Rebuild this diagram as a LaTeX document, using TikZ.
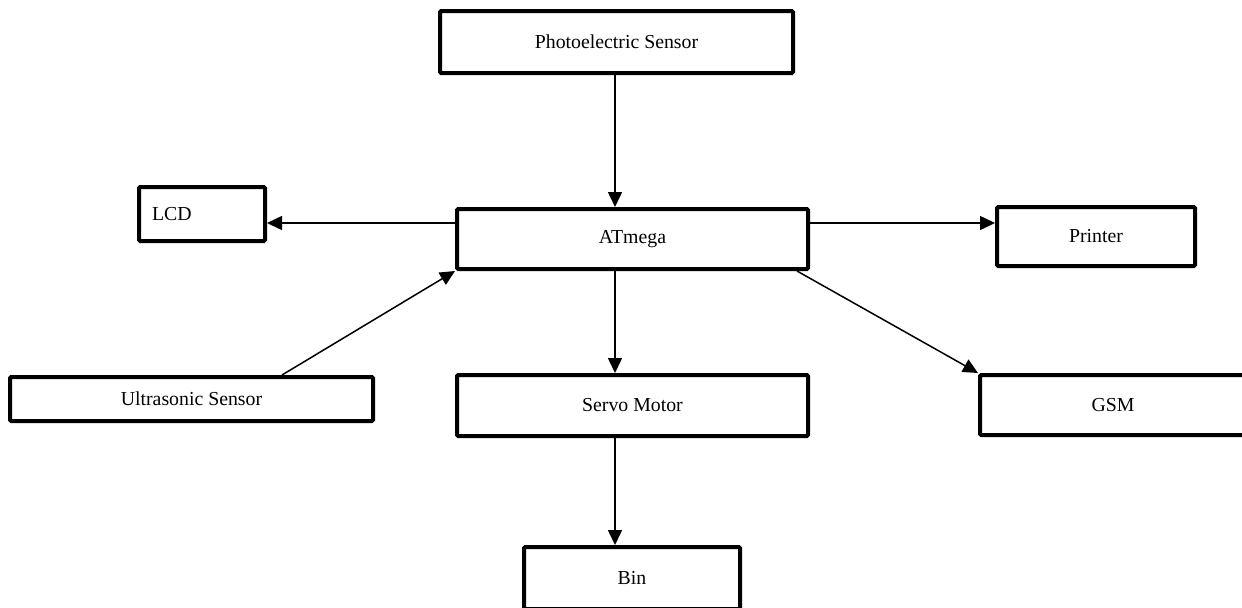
\documentclass[tikz,border=0pt]{standalone}
\usepackage{fontspec}
\setmainfont{Liberation Serif}
\usetikzlibrary{arrows.meta}

\begin{document}
\begin{tikzpicture}[->,>={Triangle[length=7.5pt,width=7pt]},line width=0.75pt,
                      x=0.5pt,y=-0.5pt,font=\fontsize{9.9}{12}\selectfont]
    \tikzstyle{block}=[draw,line width=2pt,rounded corners=0.6pt,align=center,inner sep=2pt]

    \useasboundingbox (0,0) rectangle (1242,607);

    \node[block,minimum width=176.5pt,minimum height=31pt]   (photo)   at (616.5,42)  {Photoelectric Sensor};
    \node[block,minimum width=175.5pt,minimum height=30pt]   (mcu)     at (632.5,239) {ATmega};
    \node[block,text width=50pt,inner xsep=6.5pt,align=left,minimum height=27pt] (lcd) at (202,214) {LCD};
    \node[block,minimum width=99pt,minimum height=29.5pt]    (printer) at (1096,236.5) {Printer};
    \node[block,minimum width=181.5pt,minimum height=22pt]   (ultra)   at (191.5,399) {Ultrasonic Sensor};
    \node[block,minimum width=175.5pt,minimum height=30.5pt] (servo)   at (632.5,405.5) {Servo Motor};
    \node[block,minimum width=133pt,minimum height=30pt]     (gsm)     at (1113,405)  {GSM};
    \node[block,minimum width=108pt,minimum height=31pt]     (bin)     at (632,578)   {Bin};

    % taps on the box edges
    \coordinate (col)   at (615,0);
    \coordinate (row)   at (0,223);
    \coordinate (utap)  at (282,0);
    \coordinate (gtap)  at (797,0);

    \path (photo.south -| col) edge (mcu.north -| col)
        (mcu.west |- row)      edge (lcd.east |- row)
        (mcu.east |- row)      edge (printer.west |- row)
        (ultra.north -| utap)  edge (mcu.south west)
        (mcu.south -| gtap)    edge (gsm.north west)

        (mcu.south -| col)     edge (servo.north -| col)
        (servo.south -| col)   edge (bin.north -| col);

\end{tikzpicture}
\end{document}
